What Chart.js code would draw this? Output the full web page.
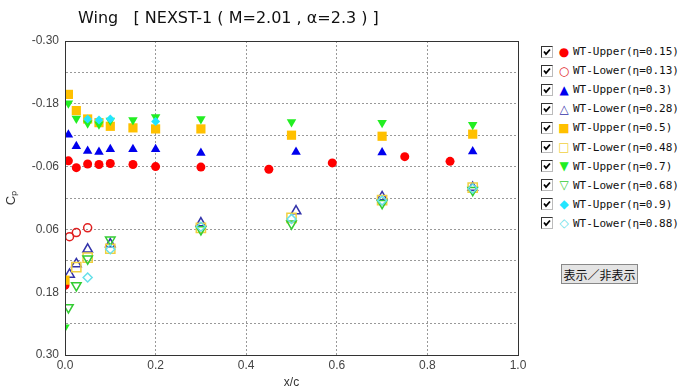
<!DOCTYPE html>
<html>
<head>
<meta charset="utf-8">
<script src="https://cdn.jsdelivr.net/npm/chart.js@4"></script>
<style>
  body { margin: 0; background: #fff; }
  #wrap { position: relative; width: 681px; height: 392px; }
  #titulo { position: absolute; left: 78px; top: 8px; font: 16px "DejaVu Sans", sans-serif; white-space: pre; color: #111; }
  #lienzo { position: absolute; left: 0; top: 0; }
  #leyenda { position: absolute; left: 540px; top: 42px; font: 11px "DejaVu Sans Mono", monospace; color: #111; }
  #leyenda div { height: 19.1px; line-height: 19px; display: flex; align-items: center; white-space: pre; }
  #leyenda input {
    -webkit-appearance: none; appearance: none;
    width: 12px; height: 12px; margin: 0 5px 0 1px; box-sizing: border-box;
    border: 1px solid #333; border-right-color: #bbb; border-bottom-color: #bbb;
    background: #fff url("data:image/svg+xml,%3Csvg xmlns='http://www.w3.org/2000/svg' width='10' height='10'%3E%3Cpath d='M2 4.5 L4 7 L8 2.5' fill='none' stroke='%23000' stroke-width='1.8'/%3E%3C/svg%3E") center/10px 10px no-repeat;
  }
  #leyenda span.m { display: inline-block; width: 12px; text-align: center; font: 12px "DejaVu Sans", sans-serif; margin-right: 3px; }
  #boton { position: absolute; left: 561px; top: 264px; width: 77px; height: 20px; padding: 0; font: 12px "Noto Sans CJK JP", sans-serif; background: #e4e4e4; border: 1px solid #888; border-radius: 0; color: #111; }
</style>
</head>
<body>
<div id="wrap">
  <canvas id="lienzo" width="530" height="392"></canvas>
  <div id="titulo">Wing   [ NEXST-1 ( M=2.01 , α=2.3 ) ]</div>
  <div id="leyenda"></div>
  <button id="boton">表示／非表示</button>
</div>
<script>
// x/c y Cp por serie
const upper015X = [0, 0.0075, 0.025, 0.05, 0.075, 0.1, 0.15, 0.2, 0.3, 0.45, 0.59, 0.75, 0.85];
const upper015Y = [0.167, -0.071, -0.058, -0.065, -0.064, -0.066, -0.064, -0.060, -0.059, -0.055, -0.067, -0.079, -0.070];
const lower013X = [0.01, 0.025, 0.05];
const lower013Y = [0.074, 0.066, 0.057];
const upper03X = [0.0075, 0.025, 0.05, 0.075, 0.1, 0.15, 0.2, 0.3, 0.51, 0.7, 0.9];
const upper03Y = [-0.121, -0.099, -0.090, -0.088, -0.093, -0.093, -0.093, -0.086, -0.088, -0.087, -0.089];
const lower028X = [0.01, 0.025, 0.05, 0.1, 0.3, 0.51, 0.7, 0.9];
const lower028Y = [0.146, 0.126, 0.098, 0.088, 0.048, 0.025, -0.002, -0.02];
const upper05X = [0, 0.0075, 0.025, 0.05, 0.075, 0.1, 0.15, 0.2, 0.3, 0.5, 0.7, 0.9];
const upper05Y = [0.157, -0.198, -0.167, -0.151, -0.144, -0.137, -0.134, -0.132, -0.132, -0.120, -0.118, -0.122];
const lower048X = [0.025, 0.05, 0.1, 0.3, 0.5, 0.7, 0.9];
const lower048Y = [0.132, 0.114, 0.097, 0.057, 0.038, 0.004, -0.02];
const upper07X = [0, 0.0075, 0.025, 0.05, 0.075, 0.1, 0.15, 0.2, 0.3, 0.5, 0.7, 0.9];
const upper07Y = [0.247, -0.181, -0.152, -0.143, -0.141, -0.148, -0.149, -0.155, -0.151, -0.145, -0.144, -0.140];
const lower068X = [0.0075, 0.025, 0.05, 0.1, 0.3, 0.5, 0.7, 0.9];
const lower068Y = [0.209, 0.167, 0.116, 0.080, 0.060, 0.049, 0.010, -0.015];
const upper09X = [0.05, 0.075, 0.1, 0.2];
const upper09Y = [-0.151, -0.149, -0.151, -0.146];
const lower088X = [0.05, 0.1, 0.3, 0.5, 0.7, 0.9];
const lower088Y = [0.152, 0.098, 0.055, 0.040, 0.005, -0.018];

const xTicks = [0, 0.2, 0.4, 0.6, 0.8, 1.0];
const yTicks = [-0.30, -0.24, -0.18, -0.12, -0.06, 0, 0.06, 0.12, 0.18, 0.24, 0.30];
const yLabels = ['-0.30', '', '-0.18', '', '-0.06', '', '0.06', '', '0.18', '', '0.30'];

const series = [
  { label: 'WT-Upper(η=0.15)', xs: upper015X, ys: upper015Y, color: '#ff0000', style: 'circle', fill: true, r: 4.5, rot: 0, glyph: '●' },
  { label: 'WT-Lower(η=0.13)', xs: lower013X, ys: lower013Y, color: '#e02020', style: 'circle', fill: false, r: 4, rot: 0, glyph: '○' },
  { label: 'WT-Upper(η=0.3)', xs: upper03X, ys: upper03Y, color: '#0000ee', style: 'triangle', fill: true, r: 5.5, rot: 0, glyph: '▲' },
  { label: 'WT-Lower(η=0.28)', xs: lower028X, ys: lower028Y, color: '#3333aa', style: 'triangle', fill: false, r: 5.5, rot: 0, glyph: '△' },
  { label: 'WT-Upper(η=0.5)', xs: upper05X, ys: upper05Y, color: '#ffc000', style: 'rect', fill: true, r: 6.5, rot: 0, glyph: '■' },
  { label: 'WT-Lower(η=0.48)', xs: lower048X, ys: lower048Y, color: '#f0d040', style: 'rect', fill: false, r: 6.5, rot: 0, glyph: '□' },
  { label: 'WT-Upper(η=0.7)', xs: upper07X, ys: upper07Y, color: '#22ee22', style: 'triangle', fill: true, r: 5.5, rot: 180, glyph: '▼' },
  { label: 'WT-Lower(η=0.68)', xs: lower068X, ys: lower068Y, color: '#33cc33', style: 'triangle', fill: false, r: 5.5, rot: 180, glyph: '▽' },
  { label: 'WT-Upper(η=0.9)', xs: upper09X, ys: upper09Y, color: '#22e5ff', style: 'rectRot', fill: true, r: 4.5, rot: 0, glyph: '◆' },
  { label: 'WT-Lower(η=0.88)', xs: lower088X, ys: lower088Y, color: '#66e0e8', style: 'rectRot', fill: false, r: 4.5, rot: 0, glyph: '◇' }
];

const marco = {
  id: 'marco',
  afterDraw(chart) {
    const a = chart.chartArea;
    const ctx = chart.ctx;
    ctx.save();
    ctx.strokeStyle = '#333';
    ctx.lineWidth = 1;
    ctx.strokeRect(Math.round(a.left) + 0.5, Math.round(a.top) + 0.5, Math.round(a.right - a.left), Math.round(a.bottom - a.top));
    ctx.restore();
  }
};

new Chart(document.getElementById('lienzo').getContext('2d'), {
  type: 'scatter',
  data: {
    datasets: series.map((s, i) => ({
      label: s.label,
      data: s.xs.map((x, j) => ({ x: x, y: s.ys[j] })),
      pointStyle: s.style,
      pointRotation: s.rot,
      pointRadius: s.r,
      pointHoverRadius: s.r,
      borderWidth: s.fill ? 0 : 1.5,
      borderColor: s.color,
      backgroundColor: s.fill ? s.color : 'rgba(255,255,255,0)',
      order: series.length - i
    }))
  },
  options: {
    responsive: false,
    animation: false,
    layout: { padding: { top: 41, right: 12, left: 0, bottom: 0 } },
    plugins: { legend: { display: false }, tooltip: { enabled: false } },
    scales: {
      x: {
        type: 'linear', min: 0, max: 1,
        afterBuildTicks: sc => { sc.ticks = xTicks.map(v => ({ value: v })); },
        afterFit: sc => { sc.height = 37; },
        ticks: { color: '#444', font: { family: 'Liberation Sans', size: 12 }, padding: 3, callback: v => v.toFixed(1) },
        grid: { color: '#999', drawTicks: false },
        border: { dash: [2, 2], color: '#333' },
        title: { display: true, text: 'x/c', color: '#333', font: { family: 'Liberation Sans', size: 12 }, padding: { top: 0, bottom: 2 } }
      },
      y: {
        type: 'linear', min: -0.30, max: 0.30, reverse: true,
        afterBuildTicks: sc => { sc.ticks = yTicks.map(v => ({ value: v })); },
        afterFit: sc => { sc.width = 65; },
        ticks: { color: '#444', font: { family: 'Liberation Sans', size: 12 }, padding: 6, callback: (v, i) => yLabels[i] },
        grid: { color: '#999', drawTicks: false },
        border: { dash: [2, 2], color: '#333' },
        title: { display: true, text: 'Cₚ', color: '#333', font: { family: 'Liberation Sans', size: 13 }, padding: { top: 4, bottom: 0 } }
      }
    }
  },
  plugins: [marco]
});

const leyenda = document.getElementById('leyenda');
series.forEach(s => {
  const fila = document.createElement('div');
  fila.innerHTML = '<input type="checkbox" checked><span class="m" style="color:' + s.color + '">' + s.glyph + '</span>' + s.label;
  leyenda.appendChild(fila);
});
</script>
</body>
</html>
